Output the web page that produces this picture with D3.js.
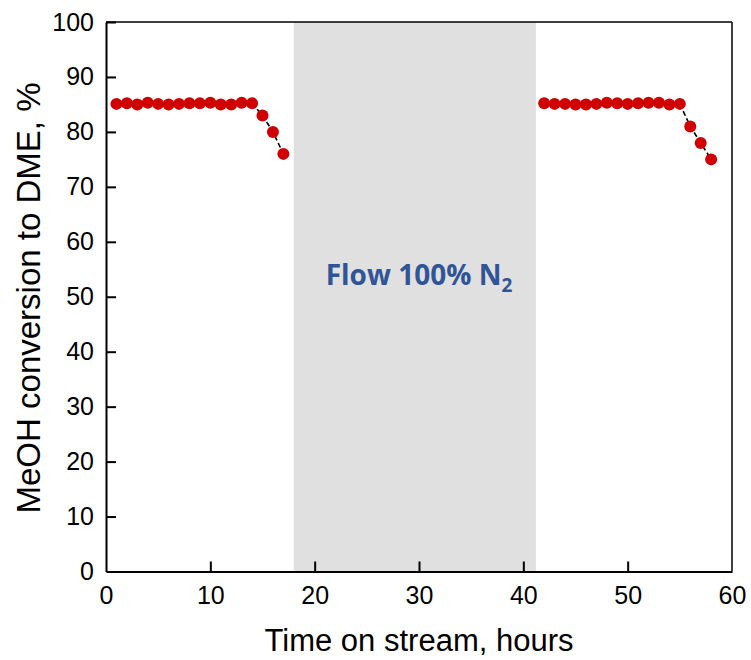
<!DOCTYPE html>
<html>
<head>
<meta charset="utf-8">
<script src="https://cdn.jsdelivr.net/npm/d3@7"></script>
<style>
  body { margin: 0; background: #fff; }
  text { font-family: "Liberation Sans", Arial, sans-serif; }
</style>
</head>
<body>
<div id="vis"></div>
<script>
// SVG geometry
var width = 751;
var height = 660;
var margin = { top: 22, left: 106, bottom: 90, right: 19 };

// data
var hours1 = [1, 2, 3, 4, 5, 6, 7, 8, 9, 10, 11, 12, 13, 14, 15, 16, 17];
var conv1 = [85.1, 85.2, 85.0, 85.3, 85.1, 85.0, 85.1, 85.2, 85.2, 85.3, 85.0, 85.0, 85.3, 85.2, 83.0, 80.0, 76.0];
var hours2 = [42, 43, 44, 45, 46, 47, 48, 49, 50, 51, 52, 53, 54, 55, 56, 57, 58];
var conv2 = [85.2, 85.1, 85.1, 85.0, 85.0, 85.1, 85.3, 85.2, 85.1, 85.2, 85.3, 85.3, 85.0, 85.1, 81.0, 78.0, 75.0];
var purge = [18, 41.2];
var xTicks = [0, 10, 20, 30, 40, 50, 60];
var yTicks = [0, 10, 20, 30, 40, 50, 60, 70, 80, 90, 100];

var series = [
  hours1.map(function(h, i) { return { t: h, v: conv1[i] }; }),
  hours2.map(function(h, i) { return { t: h, v: conv2[i] }; })
];

var x = d3.scaleLinear().domain([0, 60]).range([margin.left, width - margin.right]);
var y = d3.scaleLinear().domain([0, 100]).range([height - margin.bottom + 1.5, margin.top]);

var svg = d3.select('#vis')
  .append('svg')
  .attr('width', width)
  .attr('height', height);

// grey N2 band
svg.append('rect')
  .attr('x', x(purge[0]))
  .attr('y', y(100))
  .attr('width', x(purge[1]) - x(purge[0]))
  .attr('height', y(0) - y(100))
  .attr('fill', '#e0e0e0');

svg.append('text')
  .attr('x', 419)
  .attr('y', 285)
  .attr('text-anchor', 'middle')
  .attr('fill', '#2f5597')
  .style('font-family', '"Open Sans", sans-serif')
  .style('font-weight', 'bold')
  .style('font-size', '28px')
  .text('Flow 100% N')
  .append('tspan')
  .attr('dy', 7)
  .style('font-size', '19px')
  .text('2');

// frame (top & right)
svg.append('line')
  .attr('x1', x(0)).attr('x2', x(60))
  .attr('y1', y(100)).attr('y2', y(100))
  .attr('stroke', '#000').attr('stroke-width', 1.5);
svg.append('line')
  .attr('x1', x(60)).attr('x2', x(60))
  .attr('y1', y(100)).attr('y2', y(0))
  .attr('stroke', '#000').attr('stroke-width', 1.5);

// axes
var xAxis = svg.append('g')
  .attr('transform', 'translate(0,' + y(0) + ')')
  .call(d3.axisBottom(x).tickValues(xTicks).tickSizeInner(-10).tickSizeOuter(0).tickPadding(15));
var yAxis = svg.append('g')
  .attr('transform', 'translate(' + x(0) + ',0)')
  .call(d3.axisLeft(y).tickValues(yTicks).tickSizeInner(-10).tickSizeOuter(0).tickPadding(12));

[xAxis, yAxis].forEach(function(a) {
  a.select('.domain').attr('stroke-width', 2);
  a.selectAll('.tick line').attr('stroke-width', 2);
  a.selectAll('.tick text')
    .style('font-family', '"Liberation Sans", Arial, sans-serif')
    .style('font-size', '25px')
    .attr('fill', '#000');
});
xAxis.selectAll('.tick line').filter(function(d) { return d === 0 || d === 60; }).remove();
yAxis.selectAll('.tick line').filter(function(d) { return d === 0; }).remove();

// axis titles
svg.append('text')
  .attr('x', 419)
  .attr('y', 651)
  .attr('text-anchor', 'middle')
  .style('font-size', '31px')
  .text('Time on stream, hours');

svg.append('text')
  .attr('transform', 'translate(40,298) rotate(-90)')
  .attr('text-anchor', 'middle')
  .style('font-size', '33px')
  .text('MeOH conversion to DME, %');

// series
var line = d3.line()
  .x(function(d) { return x(d.t); })
  .y(function(d) { return y(d.v); });

series.forEach(function(s) {
  svg.append('path')
    .datum(s)
    .attr('fill', 'none')
    .attr('stroke', '#000')
    .attr('stroke-width', 1.6)
    .attr('stroke-dasharray', '5,3')
    .attr('d', line);

  svg.append('g')
    .selectAll('circle')
    .data(s)
    .enter()
    .append('circle')
    .attr('cx', function(d) { return x(d.t); })
    .attr('cy', function(d) { return y(d.v); })
    .attr('r', 6)
    .attr('fill', '#d00000');
});
</script>
</body>
</html>
